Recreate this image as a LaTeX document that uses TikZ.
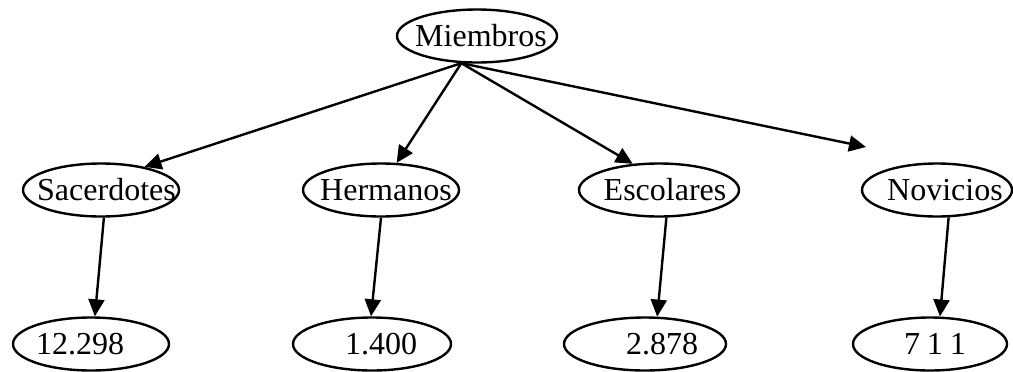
\documentclass[tikz,border=0pt]{standalone}
\usepackage{fontspec}
\setmainfont{Liberation Serif}
\usetikzlibrary{arrows.meta,shapes}
\newcommand{\lbl}[2][0pt]{\makebox[0pt]{\hspace*{#1}#2}}

\begin{document}
\begin{tikzpicture}[x=0.5pt,y=-0.5pt,
    bubble/.style={
      draw,
      shape=ellipse,
      inner sep=0pt,
      minimum width=79pt,
      minimum height=26.5pt,
      line width=1.2pt,
      black,
      font=\fontsize{16}{19}\selectfont
    },
    link/.style={-{Triangle[length=8.5pt,width=8pt]},line width=1.2pt}
    ]
    \useasboundingbox (0,0) rectangle (1013,371);
    % raiz
    \node[bubble,minimum width=80pt] (miembros) at (477,36) {\lbl[4pt]{Miembros}};
    % grupos
    \node[bubble,minimum width=78pt] (sacerdotes) at (101,190) {\lbl[5.5pt]{Sacerdotes}};
    \node[bubble,minimum width=78pt] (hermanos) at (381,190) {\lbl[5pt]{Hermanos}};
    \node[bubble,minimum width=80pt] (escolares) at (659,190) {\lbl[6pt]{Escolares}};
    \node[bubble,minimum width=75pt] (novicios) at (937,190) {\lbl[8pt]{Novicios}};
    % cifras
    \node[bubble,minimum width=78pt] (nsac) at (91,344) {\lbl[-11pt]{12.298}};
    \node[bubble,minimum width=79pt] (nher) at (372,344) {\lbl[9pt]{1.400}};
    \node[bubble,minimum width=81pt] (nesc) at (645,344) {\lbl[17pt]{2.878}};
    \node[bubble,minimum width=77pt] (nnov) at (930,344) {\lbl[5pt]{7\kern3.5pt1\kern3.5pt1}};
    \coordinate (novtip) at (866,147);
    \draw[link] (miembros.240) -- (sacerdotes.28);
    \draw[link] (miembros.240) -- (hermanos.60);
    \draw[link] (miembros.240) -- (escolares.135);
    \draw[link] (miembros.240) -- (novtip);
    \draw[link] (sacerdotes.276) -- (nsac.82);
    \draw[link] (hermanos.270) -- (nher.92);
    \draw[link] (escolares.285) -- (nesc.66);
    \draw[link] (novicios.293) -- (nnov.70);
  \end{tikzpicture}
\end{document}
